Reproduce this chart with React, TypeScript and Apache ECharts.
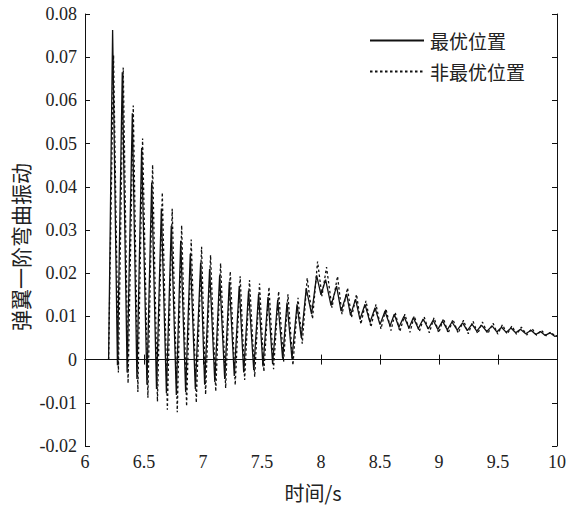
import React, { useEffect, useRef } from "react";
import * as echarts from "echarts";

const xTicks = [6, 6.5, 7, 7.5, 8, 8.5, 9, 9.5, 10];
const startPoint = [6.2, 0];
const endTime = 10;
const endValueSolid = 0.0055;
const endValueDashed = 0.0056;

const solidPeakTimes = [
  6.234, 6.316, 6.401, 6.48, 6.565, 6.647, 6.731, 6.811, 6.892, 6.98,
  7.056, 7.141, 7.223, 7.307, 7.386, 7.471, 7.551, 7.633, 7.712, 7.797,
  7.875, 7.963, 8.039, 8.132, 8.217, 8.293, 8.373, 8.458, 8.542, 8.621,
  8.703, 8.782, 8.866, 8.95, 9.03, 9.11, 9.2, 9.28, 9.36, 9.45,
  9.53, 9.61, 9.69, 9.78, 9.86, 9.94,
];
const solidTroughTimes = [
  6.275, 6.357, 6.44, 6.525, 6.606, 6.69, 6.774, 6.853, 6.935, 7.014,
  7.1, 7.184, 7.265, 7.345, 7.43, 7.508, 7.59, 7.675, 7.754, 7.833,
  7.92, 8.0, 8.085, 8.17, 8.25, 8.33, 8.415, 8.5, 8.585, 8.66,
  8.746, 8.825, 8.91, 8.99, 9.07, 9.155, 9.24, 9.32, 9.405, 9.49,
  9.57, 9.65, 9.735, 9.82, 9.9, 9.98,
];
const dashedPeakTimes = [
  6.242, 6.324, 6.409, 6.488, 6.573, 6.655, 6.739, 6.819, 6.9, 6.988,
  7.064, 7.149, 7.231, 7.315, 7.394, 7.479, 7.559, 7.641, 7.72, 7.805,
  7.883, 7.971, 8.047, 8.14, 8.225, 8.301, 8.381, 8.466, 8.55, 8.629,
  8.711, 8.79, 8.874, 8.958, 9.038, 9.118, 9.208, 9.288, 9.368, 9.458,
  9.538, 9.618, 9.698, 9.788, 9.868, 9.948,
];
const dashedTroughTimes = [
  6.283, 6.365, 6.448, 6.533, 6.614, 6.698, 6.782, 6.861, 6.943, 7.022,
  7.108, 7.192, 7.273, 7.353, 7.438, 7.516, 7.598, 7.683, 7.762, 7.841,
  7.928, 8.008, 8.093, 8.178, 8.258, 8.338, 8.423, 8.508, 8.593, 8.668,
  8.754, 8.833, 8.918, 8.998, 9.078, 9.163, 9.248, 9.328, 9.413, 9.498,
  9.578, 9.658, 9.743, 9.828, 9.908, 9.988,
];

const solidPeaks = [
  0.0763, 0.0665, 0.057, 0.049, 0.041, 0.035, 0.031, 0.0275, 0.0245, 0.0225,
  0.021, 0.0195, 0.018, 0.017, 0.016, 0.0152, 0.0145, 0.0138, 0.0132, 0.0128,
  0.0165, 0.0195, 0.0185, 0.017, 0.0152, 0.014, 0.0128, 0.012, 0.0112, 0.0105,
  0.01, 0.0097, 0.0094, 0.0091, 0.0089, 0.0087, 0.0085, 0.0082, 0.008, 0.0078,
  0.0075, 0.0073, 0.007, 0.0068, 0.0065, 0.0062,
];
const solidTroughs = [
  -0.0013, -0.003, -0.0045, -0.0058, -0.0068, -0.0078, -0.0082, -0.0075, -0.0068, -0.0058,
  -0.0052, -0.0045, -0.0038, -0.003, -0.0024, -0.0016, -0.001, 0.0002, 0.0002, 0.005,
  0.0105, 0.015, 0.0125, 0.0112, 0.0103, 0.0093, 0.0086, 0.0081, 0.0078, 0.0075,
  0.0073, 0.0072, 0.0071, 0.007, 0.0069, 0.0068, 0.0067, 0.0066, 0.0065, 0.0064,
  0.0063, 0.0062, 0.006, 0.0058, 0.0056, 0.0054,
];

const dashedPeaks = [
  0.0705, 0.0676, 0.0588, 0.0512, 0.0451, 0.0387, 0.0349, 0.0311, 0.0278, 0.0261,
  0.0242, 0.0223, 0.0204, 0.0193, 0.0184, 0.0176, 0.0168, 0.0158, 0.0151, 0.0143,
  0.0189, 0.0227, 0.0214, 0.0193, 0.0166, 0.0151, 0.0136, 0.0128, 0.0118, 0.0109,
  0.0105, 0.0101, 0.0099, 0.0097, 0.0095, 0.0093, 0.0091, 0.0089, 0.0087, 0.0084,
  0.0081, 0.0078, 0.0075, 0.0072, 0.0068, 0.0064,
];
const dashedTroughs = [
  -0.003, -0.0055, -0.0075, -0.0088, -0.0097, -0.0116, -0.0122, -0.0108, -0.01, -0.0081,
  -0.0074, -0.0066, -0.0059, -0.0047, -0.004, -0.0028, -0.0022, -0.0005, -0.0013, 0.0037,
  0.0094, 0.0147, 0.012, 0.0105, 0.0097, 0.0082, 0.0075, 0.0071, 0.0067, 0.0065,
  0.0063, 0.0065, 0.0062, 0.0062, 0.0061, 0.0061, 0.006, 0.006, 0.006, 0.0059,
  0.0059, 0.0058, 0.0057, 0.0056, 0.0055, 0.0053,
];

const seriesNames = ["最优位置", "非最优位置"];
const yAxisTitle = "弹翼一阶弯曲振动";
const xAxisTitle = "时间/s";

function buildSeries(
  peakT: number[],
  peaks: number[],
  troughT: number[],
  troughs: number[],
  endV: number
) {
  const pts: number[][] = [startPoint.slice()];
  for (let i = 0; i < peakT.length; i++) {
    pts.push([peakT[i], peaks[i]]);
    pts.push([troughT[i], troughs[i]]);
  }
  pts.push([endTime, endV]);
  return pts;
}

const FONT_NUM = "'Liberation Serif', 'DejaVu Serif', serif";
const FONT_CJK = "'Noto Sans CJK SC', sans-serif";

export default function App() {
  const ref = useRef<HTMLDivElement>(null);
  useEffect(() => {
    if (!ref.current) return;
    const chart = echarts.init(ref.current, null, { renderer: "svg" });
    const axisLine = { show: true, lineStyle: { color: "#111", width: 1 } };
    const tickIn = { show: true, inside: true, length: 5, lineStyle: { color: "#111" } };
    chart.setOption({
      animation: false,
      backgroundColor: "#fff",
      grid: { left: 85, right: 20, top: 14, bottom: 55, containLabel: false },
      legend: {
        orient: "vertical",
        left: 364,
        top: 26,
        itemWidth: 54,
        itemHeight: 12,
        itemGap: 12,
        itemStyle: { opacity: 0, color: "transparent", borderWidth: 0 },
        textStyle: { fontFamily: FONT_CJK, fontSize: 19, color: "#222", padding: [0, 0, 0, 1] },
        data: seriesNames,
      },
      graphic: [
        {
          type: "text",
          x: 20,
          y: 247,
          rotation: Math.PI / 2,
          style: {
            text: yAxisTitle,
            fontFamily: FONT_CJK,
            fontSize: 21,
            fill: "#222",
            textAlign: "center",
            textVerticalAlign: "middle",
          },
        },
      ],
      xAxis: [
        {
          type: "value",
          min: 6,
          max: 10,
          interval: 0.5,
          axisLine,
          axisTick: tickIn,
          splitLine: { show: false },
          axisLabel: {
            color: "#222",
            fontFamily: FONT_NUM,
            fontSize: 18,
            margin: 7,
            formatter: (v: number) => (xTicks.includes(v) ? String(v) : ""),
          },
          name: xAxisTitle,
          nameLocation: "middle",
          nameGap: 36,
          nameTextStyle: { fontFamily: FONT_CJK, fontSize: 20, color: "#222", padding: [0, 16, 0, 0] },
        },
        {
          type: "value",
          min: 6,
          max: 10,
          interval: 0.5,
          position: "top",
          axisLine,
          axisTick: tickIn,
          axisLabel: { show: false },
          splitLine: { show: false },
        },
      ],
      yAxis: [
        {
          type: "value",
          min: -0.02,
          max: 0.08,
          interval: 0.01,
          axisLine,
          axisTick: tickIn,
          splitLine: { show: false },
          axisLabel: {
            color: "#222",
            fontFamily: FONT_NUM,
            fontSize: 18,
            margin: 8,
            formatter: (v: number) => String(Math.round(v * 100) / 100),
          },
        },
        {
          type: "value",
          min: -0.02,
          max: 0.08,
          interval: 0.01,
          position: "right",
          axisLine,
          axisTick: tickIn,
          axisLabel: { show: false },
          splitLine: { show: false },
        },
      ],
      series: [
        {
          name: seriesNames[0],
          type: "line",
          symbol: "none",
          data: buildSeries(solidPeakTimes, solidPeaks, solidTroughTimes, solidTroughs, endValueSolid),
          lineStyle: { color: "#111", width: 1.3, type: "solid" },
          itemStyle: { color: "#111" },
          z: 3,
        },
        {
          name: seriesNames[1],
          type: "line",
          symbol: "none",
          data: buildSeries(dashedPeakTimes, dashedPeaks, dashedTroughTimes, dashedTroughs, endValueDashed),
          lineStyle: { color: "#111", width: 1.3, type: [2.5, 2.5] },
          itemStyle: { color: "#111" },
          z: 2,
        },
      ],
    });
    return () => chart.dispose();
  }, []);
  return <div ref={ref} style={{ width: 577, height: 507, position: "absolute", left: 0, top: 0 }} />;
}
